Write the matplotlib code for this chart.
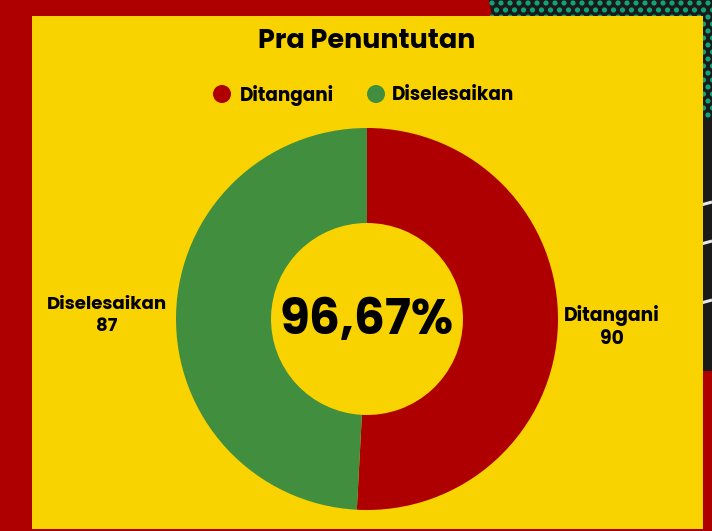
import numpy as np
import matplotlib.pyplot as plt
from matplotlib.patches import Rectangle, Polygon, Circle

# data
categories = ["Ditangani", "Diselesaikan"]
values = [90, 87]
colors = ["#AE0000", "#428E3F"]
title = "Pra Penuntutan"
center_label = "96,67%"

YELLOW = "#F9D300"
RED_BG = "#AE0000"
DARK = "#1A1A1A"
TEAL = "#12A27A"

W, H = 712, 531
fig = plt.figure(figsize=(W / 100, H / 100), dpi=100)
fig.patch.set_facecolor(RED_BG)
ax = fig.add_axes([0, 0, 1, 1])
ax.set_xlim(0, W)
ax.set_ylim(0, H)
ax.set_aspect("equal")
ax.axis("off")

def py(y):
    # pixel row (from top) to axes y
    return H - y

FONT = ["Poppins", "Inter", "DejaVu Sans"]

# decorative dark corner with dots and stripes
ax.add_patch(Polygon([(489, py(0)), (W, py(0)), (W, py(371)), (560, py(371))],
                     closed=True, facecolor=DARK, edgecolor="none", zorder=1))
xs, ys = [], []
for r, yy in enumerate(np.arange(3, 118, 7)):
    off = 4.5 if r % 2 else 0
    for xx in np.arange(492 + off, W + 5, 9):
        xs.append(xx)
        ys.append(py(yy))
ax.scatter(xs, ys, s=14, color=TEAL, edgecolors="none", zorder=2)
for y0 in [208, 247, 306]:
    ax.plot([690, W], [py(y0), py(y0 - 6)], color="#E8E8E8", lw=2.2,
            solid_capstyle="butt", zorder=2)

# yellow panel
ax.add_patch(Rectangle((32, py(529)), 703 - 32, 529 - 16,
                       facecolor=YELLOW, edgecolor="none", zorder=3))

# donut
cx, cy, R = 367, py(319), 191
wedges, _ = ax.pie(values, colors=colors, startangle=90, counterclock=False,
                   center=(cx, cy), radius=R, frame=True,
                   wedgeprops=dict(width=R - 96, edgecolor="none"))
for w in wedges:
    w.set_zorder(4)
ax.set_xlim(0, W)
ax.set_ylim(0, H)
ax.axis("off")

ax.text(cx, cy - 3, center_label, ha="center", va="center", fontsize=35,
        fontweight="bold", family=FONT, color="black", zorder=5)

# slice labels
ax.text(612, py(327), f"{categories[0]}\n{values[0]}", ha="center", va="center",
        fontsize=13.5, fontweight="bold", family=FONT, linespacing=1.25, zorder=5)
ax.text(107, py(316), f"{categories[1]}\n{values[1]}", ha="center", va="center",
        fontsize=13.1, fontweight="bold", family=FONT, linespacing=1.25, zorder=5)

# title
ax.text(367, py(42), title, ha="center", va="center", fontsize=19.5,
        fontweight="bold", family=FONT, zorder=5)

# legend
leg_items = [(222, 240, 0), (376, 392, 1)]
for mx, tx, i in leg_items:
    ax.add_patch(Circle((mx, py(94)), 9, facecolor=colors[i], edgecolor="none", zorder=5))
    ax.text(tx, py(96), categories[i], ha="left", va="center", fontsize=13.3,
            fontweight="bold", family=FONT, zorder=5)

fig.savefig("out.png", dpi=100, facecolor=fig.get_facecolor())
